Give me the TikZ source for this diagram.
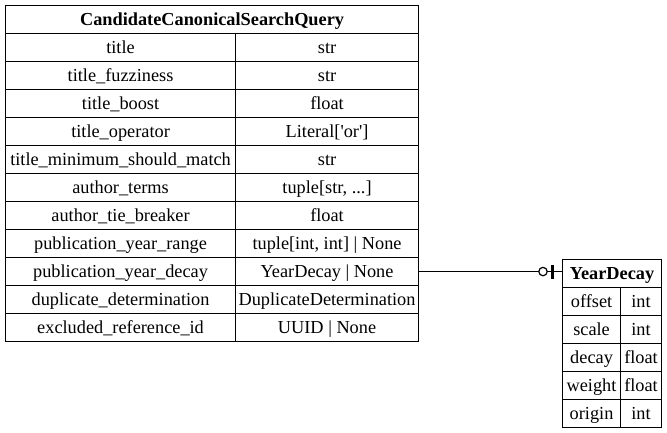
\documentclass[tikz,border=0pt]{standalone}
\usepackage{fontspec}
\setmainfont{Liberation Serif}
\usetikzlibrary{positioning}

\begin{document}
\begin{tikzpicture}[x=1bp, y=-1bp,
		cell/.style={draw, line width=1.1bp, inner sep=0pt, anchor=north west, minimum height=28bp, text height=14bp, text depth=3bp, font=\fontsize{18.3bp}{22bp}\selectfont},
		head/.style={cell, font=\fontsize{18.3bp}{22bp}\selectfont\bfseries},
		link/.style={draw, line width=1.1bp}]
		\useasboundingbox (0,0) rectangle (667,432);
		\node (query) [head, minimum width=413bp] at (5,5) {CandidateCanonicalSearchQuery};
		\foreach \field/\kind [count=\i] in {title/str, title\_fuzziness/str, title\_boost/float,
			title\_operator/{Literal[\textquotesingle or\textquotesingle]}, title\_minimum\_should\_match/str,
			author\_terms/{tuple[str, ...]}, author\_tie\_breaker/float,
			publication\_year\_range/{tuple[int, int] | None}, publication\_year\_decay/{YearDecay | None},
			duplicate\_determination/DuplicateDetermination, excluded\_reference\_id/{UUID | None}} {
			\node (qfield\i) [cell, minimum width=230bp] at (5,{33+28*(\i-1)}) {\field};
			\node (qkind\i) [cell, minimum width=183bp] at (235,{33+28*(\i-1)}) {\kind};
		}
		\node (decay) [head, minimum width=99bp] at (562,259) {YearDecay};
		\foreach \field/\kind [count=\i] in {offset/int, scale/int, decay/float, weight/float, origin/int} {
			\node (dfield\i) [cell, minimum width=58bp] at (562,{287+28*(\i-1)}) {\field};
			\node (dkind\i) [cell, minimum width=41bp] at (620,{287+28*(\i-1)}) {\kind};
		}
		\draw [link] (qkind9.east) -- (qkind9.east -| decay.west) coordinate (decayend);
		\draw [line width=1.2bp, fill=white] ([xshift=-19bp]decayend) circle (4.2bp);
		\draw [line width=3bp] ([xshift=-10bp,yshift=-7bp]decayend) -- ([xshift=-10bp,yshift=7bp]decayend);
	\end{tikzpicture}
\end{document}
